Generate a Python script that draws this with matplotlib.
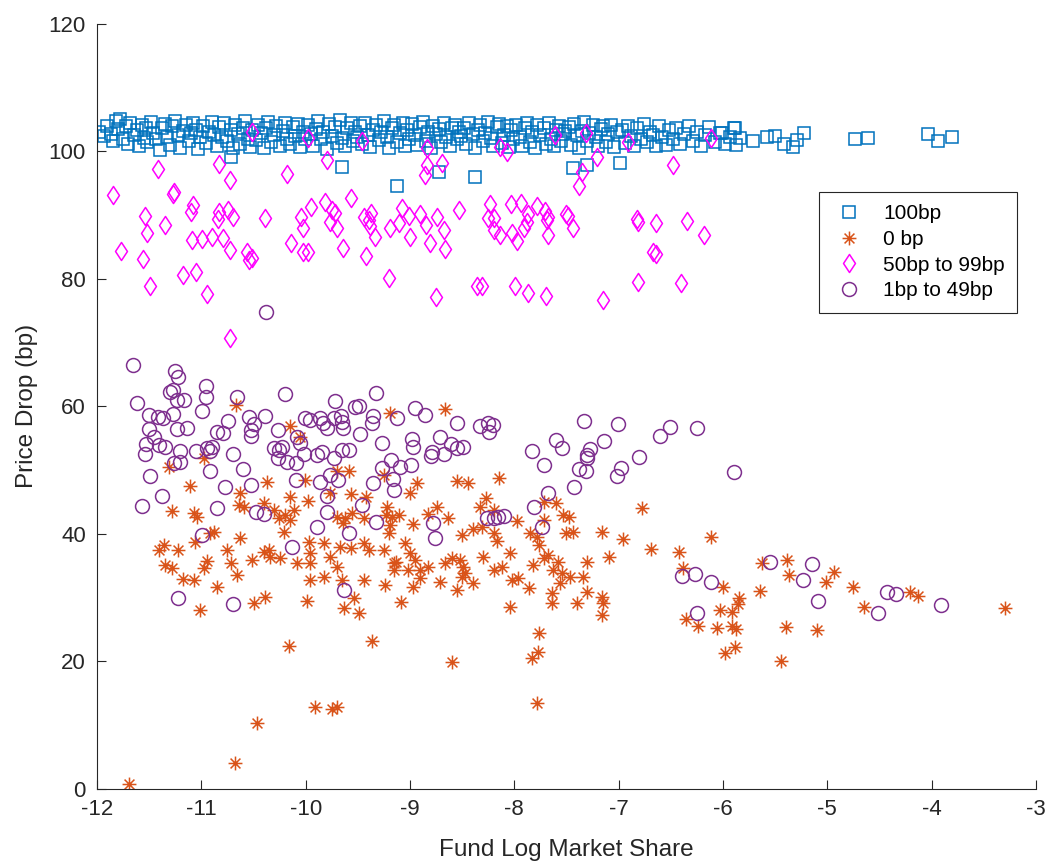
import numpy as np
import matplotlib
matplotlib.use("Agg")
import matplotlib.pyplot as plt
from matplotlib.path import Path

plt.rcParams['font.family'] = ['Liberation Sans', 'DejaVu Sans']

# ---- data: 100bp group (squares) ----
x_100 = [-11.98, -11.93, -11.90, -11.87, -11.85, -11.82, -11.80, -11.78, -11.75, -11.72, -11.70, -11.68, -11.65, -11.62, -11.60, -11.57, -11.55, -11.53, -11.52,
         -11.48, -11.46, -11.43, -11.40, -11.38, -11.35, -11.33, -11.30, -11.28, -11.25, -11.22, -11.20, -11.18, -11.15, -11.12, -11.10, -11.08, -11.05, -11.03, -11.01,
         -10.98, -10.96, -10.93, -10.90, -10.88, -10.85, -10.83, -10.80, -10.78, -10.75, -10.72, -10.70, -10.68, -10.65, -10.63, -10.60, -10.58, -10.55, -10.53, -10.51,
         -10.48, -10.46, -10.43, -10.40, -10.38, -10.36, -10.33, -10.30, -10.28, -10.25, -10.22, -10.20, -10.18, -10.15, -10.12, -10.10, -10.07, -10.05, -10.03, -10.01,
         -9.98, -9.95, -9.93, -9.90, -9.88, -9.85, -9.83, -9.80, -9.78, -9.75, -9.72, -9.70, -9.67, -9.65, -9.62, -9.60, -9.57, -9.55, -9.53, -9.51,
         -9.48, -9.46, -9.43, -9.40, -9.38, -9.35, -9.33, -9.30, -9.28, -9.25, -9.22, -9.20, -9.17, -9.15, -9.12, -9.10, -9.07, -9.05, -9.03, -9.01,
         -8.98, -8.95, -8.93, -8.90, -8.88, -8.85, -8.83, -8.80, -8.78, -8.75, -8.72, -8.70, -8.67, -8.65, -8.62, -8.60, -8.57, -8.55, -8.53, -8.51,
         -8.48, -8.46, -8.43, -8.40, -8.38, -8.35, -8.33, -8.30, -8.28, -8.25, -8.22, -8.20, -8.17, -8.15, -8.12, -8.10, -8.07, -8.05, -8.03, -8.01,
         -7.98, -7.95, -7.93, -7.90, -7.88, -7.85, -7.83, -7.80, -7.78, -7.75, -7.72, -7.70, -7.67, -7.65, -7.62, -7.60, -7.57, -7.55, -7.53, -7.51,
         -7.48, -7.46, -7.43, -7.40, -7.38, -7.35, -7.33, -7.30, -7.28, -7.25, -7.22, -7.20, -7.17, -7.15, -7.12, -7.10, -7.07, -7.04, -7.02,
         -6.97, -6.94, -6.91, -6.88, -6.85, -6.82, -6.79, -6.76, -6.73, -6.70, -6.67, -6.64, -6.61, -6.58, -6.55, -6.52,
         -6.48, -6.45, -6.41, -6.37, -6.33, -6.29, -6.25, -6.21, -6.17, -6.13, -6.08, -6.03, -5.98, -5.93, -5.89, -5.87, -5.84,
         -10.72, -9.65, -9.12, -8.72, -8.38, -7.44, -7.30, -6.99,
         -5.88, -6.01, -5.71, -5.58, -5.50, -5.41, -5.33, -5.29, -5.22, -4.73, -4.61, -4.03, -3.94, -3.80]
y_100 = [103.1, 102.4, 104.0, 102.8, 101.6, 104.8, 103.5, 105.0, 102.0, 103.9, 101.2, 104.4, 102.6, 103.3, 100.8, 104.2, 102.1, 103.7, 101.5,
         104.6, 102.9, 101.9, 100.2, 103.6, 104.3, 102.3, 101.0, 103.9, 104.7, 102.6, 100.6, 103.2, 104.1, 101.7, 102.9, 104.5, 103.4, 100.4, 102.2,
         104.0, 101.3, 103.0, 104.6, 102.5, 100.9, 103.8, 102.2, 104.4, 101.6, 103.4, 100.5, 104.1, 102.8, 101.2, 103.6, 104.8, 102.0, 100.7, 103.3,
         101.8, 104.2, 102.9, 100.6, 103.7, 104.6, 101.4, 102.6, 104.0, 100.9, 103.2, 104.5, 102.0, 101.1, 103.8, 102.4, 104.3, 100.7, 103.0, 101.9,
         104.1, 102.7, 100.8, 103.5, 104.7, 101.9, 103.1, 100.4, 104.3, 102.4, 103.8, 101.3, 104.9, 102.1, 100.9, 103.6, 104.4, 101.7, 103.0, 102.3,
         103.9, 101.2, 104.5, 102.6, 100.7, 103.4, 104.2, 101.8, 103.0, 104.8, 102.3, 100.5, 103.7, 104.1, 101.5, 102.9, 104.4, 100.9, 103.3, 102.0,
         104.3, 102.5, 101.0, 103.8, 104.6, 101.7, 103.1, 100.6, 104.0, 102.8, 103.5, 101.4, 104.5, 102.2, 100.8, 103.6, 104.2, 101.9, 103.0, 102.4,
         103.7, 101.1, 104.4, 102.7, 100.5, 103.3, 104.1, 101.6, 102.9, 104.6, 102.1, 100.9, 103.8, 104.3, 101.3, 102.6, 104.0, 100.7, 103.4, 101.9,
         104.2, 102.3, 100.8, 103.6, 104.5, 101.5, 103.0, 100.5, 104.1, 102.6, 103.7, 101.2, 104.4, 102.0, 100.9, 103.4, 104.0, 101.7, 102.8, 103.2,
         103.8, 101.0, 104.3, 102.5, 100.6, 103.2, 104.6, 101.7, 102.9, 104.1, 102.2, 100.8, 103.5, 103.9, 101.4, 102.7, 104.2, 100.7, 103.0,
         103.4, 101.3, 104.0, 102.4, 100.9, 103.7, 102.0, 104.3, 101.5, 103.1, 102.6, 100.8, 103.9, 102.2, 101.0, 103.3,
         102.0, 103.6, 101.2, 102.8, 104.0, 101.6, 103.1, 100.9, 102.5, 103.8, 101.4, 102.9, 101.1, 102.3, 103.7, 101.0, 102.1,
         99.1, 97.6, 94.6, 96.8, 96.0, 97.4, 97.9, 98.2,
         103.7, 102.9, 101.6, 102.3, 102.4, 101.2, 100.7, 101.8, 102.9, 102.0, 102.1, 102.7, 101.6, 102.3]

# ---- data: 0 bp group (asterisks) ----
x_0 = [-10.67, -9.19, -10.15, -10.05, -10.97, -11.31, -11.11, -10.37, -10.01, -9.70, -9.58, -9.25, -10.63, -10.15, -9.98, -9.77, -9.57, -9.42, -9.22,
       -11.28, -11.07, -11.04, -10.64, -10.59, -10.40, -10.30, -10.26, -10.20, -10.15, -10.21, -10.11, -9.70, -9.62, -9.56, -9.64, -9.44, -9.23, -9.19, -9.20,
       -10.88, -10.92, -11.06, -10.63, -11.36, -11.41, -11.22, -10.75, -10.95, -11.35, -11.28, -10.97, -10.72, -10.51, -10.40, -10.35, -10.34, -10.25, -10.08,
       -9.97, -9.96, -9.96, -9.82, -9.77, -9.70, -9.67, -9.57, -9.44, -9.39, -9.25, -9.15, -9.15, -11.18, -11.07, -10.66, -9.96, -9.82, -9.65, -9.44, -9.24,
       -10.85, -10.39, -10.50, -9.99, -9.63, -9.54, -9.49, -11.01,
       -8.66, -8.15, -8.55, -8.44, -8.93, -9.00, -8.27, -8.33, -8.19, -9.17, -9.11, -8.74, -8.83, -8.64, -8.97, -8.50, -8.40, -8.31, -8.19, -8.17,
       -7.97, -7.85, -7.78, -7.76, -7.72, -7.72, -7.60, -7.53, -7.48, -7.50, -7.44, -7.16, -6.96, -6.78, -6.69, -6.42, -7.09,
       -9.05, -9.00, -9.13, -8.95, -8.90, -9.02, -8.83, -8.66, -8.60, -8.52, -8.49, -8.47, -8.50, -8.71, -8.90, -8.97, -8.55, -8.40, -8.30, -8.19, -8.12, -8.04,
       -7.82, -7.72, -7.68, -7.58, -7.63, -7.54, -7.47, -7.56, -7.34, -7.30, -8.02, -7.96, -7.86, -7.64, -7.64, -7.40, -7.30, -7.16, -7.15, -7.16, -9.09, -8.04,
       -6.11, -6.38, -5.63, -5.39, -5.37, -4.94, -5.01, -4.75, -4.21, -4.13, -3.30, -6.00, -5.64, -5.85, -5.86, -6.03, -5.91, -4.65,
       -6.35, -6.24, -6.06, -5.91, -5.87, -5.40, -5.10,
       -10.16, -9.91, -9.75, -9.70, -10.47, -10.68, -11.69, -9.36, -8.60,
       -7.76, -7.77, -7.83, -7.78, -5.88, -5.98, -5.44]
y_0 = [60.2, 59.0, 56.9, 55.2, 51.9, 50.5, 47.5, 48.2, 48.5, 49.9, 49.9, 49.3, 46.4, 45.8, 45.2, 46.4, 46.3, 45.8, 44.2,
       43.6, 43.3, 42.7, 44.5, 44.2, 44.9, 43.8, 42.5, 43.0, 42.2, 40.3, 43.8, 42.7, 42.5, 43.3, 41.7, 42.5, 43.0, 41.4, 40.2,
       40.3, 40.2, 38.7, 39.4, 38.3, 37.5, 37.5, 37.5, 35.8, 35.1, 34.6, 34.6, 35.4, 35.9, 37.2, 37.5, 36.4, 36.2, 35.4,
       38.7, 37.0, 35.4, 38.6, 36.4, 34.8, 38.0, 37.8, 38.6, 37.5, 37.5, 35.4, 34.4, 32.9, 32.8, 33.6, 32.8, 33.3, 32.8, 32.8, 32.0,
       31.7, 30.1, 29.2, 29.5, 28.4, 30.0, 27.6, 28.1,
       59.6, 48.8, 48.3, 48.0, 48.0, 46.4, 45.6, 44.2, 43.8, 42.7, 43.0, 44.2, 43.1, 42.5, 41.6, 39.8, 40.8, 41.1, 40.2, 38.9,
       42.0, 40.2, 39.5, 38.3, 42.2, 45.0, 44.9, 43.0, 42.7, 40.2, 40.3, 40.3, 39.2, 44.1, 37.6, 37.2, 36.4,
       38.6, 37.0, 35.6, 35.9, 34.4, 34.4, 34.8, 35.4, 36.2, 35.9, 34.8, 33.9, 33.3, 32.5, 33.1, 31.7, 31.2, 32.3, 36.4, 34.4, 34.8, 37.0,
       35.1, 36.2, 36.7, 35.6, 34.4, 33.9, 33.3, 32.3, 33.3, 35.6, 32.8, 33.1, 31.5, 30.7, 29.2, 29.2, 30.9, 30.1, 29.2, 27.3, 29.3, 28.5,
       39.5, 34.7, 35.5, 35.9, 33.6, 34.0, 32.5, 31.7, 30.9, 30.3, 28.4, 31.7, 31.1, 30.0, 29.0, 28.1, 27.8, 28.6,
       26.7, 25.6, 25.3, 25.6, 25.1, 25.4, 24.9,
       22.4, 12.9, 12.5, 12.9, 10.4, 4.1, 0.8, 23.2, 19.9,
       24.5, 21.5, 20.5, 13.5, 22.3, 21.3, 20.1]

# ---- data: 50bp to 99bp group (diamonds) ----
x_50 = [-11.42, -11.85, -10.83, -10.73, -11.26, -11.27, -11.54, -11.52, -11.35, -11.77, -11.56, -11.49, -11.18, -11.05, -10.95, -11.08, -11.10, -11.09,
        -10.99, -10.90, -10.79, -10.73, -10.83, -10.84, -10.74, -10.70, -10.56, -10.54, -10.51, -10.39, -10.18, -10.14, -10.04, -10.03, -10.03, -9.98,
        -9.95, -9.80, -9.81, -9.75, -9.72, -9.77, -9.70, -9.64, -9.57, -9.44, -9.39, -9.37, -9.38, -9.34, -9.42, -9.20, -9.19, -9.11, -9.08, -9.01,
        -9.00, -8.90, -8.85, -8.81, -8.74, -8.67, -8.66, -8.53, -8.36, -8.75, -10.73, -8.86, -8.84, -8.69, -8.84,
        -7.21, -7.35, -7.38, -6.48, -8.23, -8.25, -8.19, -8.19, -8.14, -8.03, -7.94, -7.87, -7.88, -7.91, -8.02, -7.97, -7.78, -7.71, -7.68,
        -7.69, -7.68, -7.50, -7.49, -7.44, -6.82, -6.81, -6.64, -6.34, -6.18, -6.67, -6.64, -8.31, -7.99, -7.87, -7.70, -7.15, -6.81, -6.40,
        -7.61, -7.31, -6.91, -6.11, -10.51, -9.98, -9.46, -8.14, -8.07]
y_50 = [97.3, 93.2, 98.0, 95.5, 93.6, 93.3, 89.9, 87.2, 88.5, 84.4, 83.1, 78.9, 80.6, 81.1, 77.6, 91.6, 90.5, 86.1,
        86.3, 86.6, 86.4, 84.5, 90.5, 89.4, 90.8, 89.7, 84.2, 83.0, 83.3, 89.6, 96.5, 85.6, 89.7, 88.0, 84.2, 84.2,
        91.3, 98.7, 92.1, 90.8, 90.3, 89.0, 88.0, 84.9, 92.7, 89.7, 89.2, 90.3, 88.3, 86.6, 83.6, 80.2, 88.0, 88.8, 91.1, 89.9,
        86.6, 90.2, 88.5, 85.6, 89.7, 87.7, 84.7, 90.8, 78.9, 77.2, 70.7, 96.3, 97.9, 98.2, 100.5,
        99.1, 96.8, 94.6, 97.9, 91.8, 89.6, 89.6, 87.7, 86.9, 91.8, 91.9, 90.2, 88.9, 88.0, 87.2, 86.0, 91.5, 90.7, 89.7,
        89.3, 86.9, 90.2, 89.9, 88.0, 89.4, 88.9, 88.8, 89.1, 86.9, 84.2, 83.9, 78.9, 78.9, 77.8, 77.3, 76.7, 79.5, 79.4,
        102.6, 102.9, 101.5, 102.1, 103.0, 102.1, 101.6, 100.7, 99.9]

# ---- data: 1bp to 49bp group (circles) ----
x_1 = [-11.66, -11.25, -11.22, -11.62, -11.30, -11.27, -11.23, -11.17, -10.96, -10.96, -10.99, -10.66, -10.20, -9.72, -9.53, -9.49, -9.33,
       -11.50, -11.42, -11.37, -11.27, -11.50, -11.45, -11.53, -11.54, -11.41, -11.35, -11.23, -11.14, -11.20, -11.20, -11.26, -11.49, -11.38, -11.57,
       -10.74, -10.85, -10.79, -11.05, -10.95, -10.90, -10.92, -10.70, -10.92, -10.60, -10.77, -10.52, -10.85,
       -10.54, -10.50, -10.52, -10.52, -10.39, -10.27, -10.30, -10.26, -10.23, -10.27, -10.18, -10.09, -10.02, -10.05, -10.08,
       -10.01, -9.96, -9.86, -9.83, -9.80, -9.73, -9.65, -9.64, -9.66, -9.89, -9.84, -9.73, -9.65, -9.58, -9.48, -9.35, -9.36, -9.27, -9.27,
       -9.18, -9.16, -9.35, -9.77, -9.69, -9.86, -10.09, -9.80, -10.48, -10.40, -9.80, -9.46, -9.33, -9.89, -9.58, -10.99, -10.13, -9.63, -11.22, -10.70,
       -8.95, -8.86, -9.12, -8.55, -8.33, -8.25, -8.20, -8.24, -8.98, -8.97, -8.71, -8.61, -8.55, -8.49, -8.79, -8.80, -8.67, -9.10, -8.99, -9.15,
       -7.83, -7.72, -7.60, -7.54, -7.33, -7.14, -7.01, -7.27, -7.30, -7.30, -7.38, -7.31, -7.43, -7.68, -7.81, -7.73, -7.02, -6.98, -6.80, -6.60,
       -6.51, -6.25, -8.78, -8.76, -8.26, -8.19, -8.16, -8.10, -6.39, -6.27, -6.25,
       -5.89, -5.55, -5.15, -5.23, -5.09, -4.43, -4.34, -4.51, -3.91, -6.11, -10.38]
y_1 = [66.5, 65.6, 64.6, 60.5, 62.3, 62.6, 61.0, 61.0, 63.2, 61.5, 59.3, 61.5, 62.0, 60.9, 59.9, 60.1, 62.1,
       58.7, 58.3, 58.2, 58.8, 56.5, 55.2, 54.1, 52.5, 54.0, 53.6, 56.5, 56.6, 53.0, 51.3, 51.1, 49.1, 46.0, 44.4,
       57.7, 56.0, 55.8, 53.0, 53.5, 53.6, 53.0, 52.5, 49.9, 50.2, 47.4, 47.7, 44.1,
       58.3, 57.3, 56.3, 55.4, 58.5, 56.3, 53.5, 53.2, 53.7, 51.9, 51.3, 51.1, 52.5, 54.3, 55.2,
       58.2, 57.9, 58.2, 57.4, 56.6, 58.2, 57.6, 56.6, 58.5, 52.4, 52.9, 51.9, 53.2, 53.2, 55.7, 58.5, 57.4, 54.3, 50.4,
       51.6, 48.6, 48.0, 49.3, 48.5, 48.2, 48.5, 46.0, 43.5, 43.1, 43.5, 44.5, 41.9, 41.1, 40.2, 39.8, 38.0, 31.2, 30.0, 29.0,
       59.8, 58.7, 58.2, 57.4, 56.9, 57.4, 57.1, 56.0, 54.9, 53.6, 55.2, 54.1, 53.5, 53.6, 52.9, 52.2, 52.5, 50.5, 50.8, 46.9,
       53.0, 50.8, 54.7, 53.5, 57.7, 54.6, 57.3, 53.3, 52.4, 51.9, 50.2, 49.9, 47.4, 46.4, 44.2, 41.1, 49.1, 50.4, 52.1, 55.4,
       56.8, 56.6, 41.7, 39.4, 42.5, 42.5, 42.7, 42.8, 33.4, 33.7, 27.6,
       49.7, 35.6, 35.3, 32.8, 29.5, 30.9, 30.6, 27.6, 28.9, 32.5, 74.8]

labels = ['100bp', '0 bp', '50bp to 99bp', '1bp to 49bp']
x_ticks = [-12, -11, -10, -9, -8, -7, -6, -5, -4, -3]
y_ticks = [0, 20, 40, 60, 80, 100, 120]

# MATLAB style markers
star = Path([(0, -1), (0, 1), (-1, 0), (1, 0), (-0.71, -0.71), (0.71, 0.71), (-0.71, 0.71), (0.71, -0.71)],
            [Path.MOVETO, Path.LINETO] * 4)
diamond = Path([(0, 1), (0.66, 0), (0, -1), (-0.66, 0), (0, 1)],
               [Path.MOVETO, Path.LINETO, Path.LINETO, Path.LINETO, Path.CLOSEPOLY])

fig = plt.figure(figsize=(10.49, 8.67), dpi=100)
ax = fig.add_axes([0.0925, 0.09, 0.895, 0.8825])

ax.plot(x_100, y_100, ls='none', marker='s', ms=8, mfc='none', mec='#0072BD', mew=1.1, label=labels[0])
ax.plot(x_0, y_0, ls='none', marker=star, ms=10, mfc='none', mec='#D95319', mew=1.1, label=labels[1])
ax.plot(x_50, y_50, ls='none', marker=diamond, ms=13, mfc='none', mec='#FF00FF', mew=1.1, label=labels[2])
ax.plot(x_1, y_1, ls='none', marker='o', ms=10, mfc='none', mec='#7E2F8E', mew=1.1, label=labels[3])

ax.set_xlim(-12, -3)
ax.set_ylim(0, 120)
ax.set_xticks(x_ticks)
ax.set_yticks(y_ticks)
ax.set_xticklabels([str(t) for t in x_ticks])
ax.spines['top'].set_visible(False)
ax.spines['right'].set_visible(False)
for s in ['left', 'bottom']:
    ax.spines[s].set_color('#262626')
    ax.spines[s].set_linewidth(0.8)
ax.tick_params(direction='in', length=6.5, width=0.8, color='#262626', labelcolor='#262626', labelsize=16)
ax.tick_params(axis='x', pad=7)
ax.tick_params(axis='y', pad=8)

ax.set_xlabel('Fund Log Market Share', fontsize=17.5, color='#262626', labelpad=14)
ax.set_ylabel('Price Drop (bp)', fontsize=17.5, color='#262626', labelpad=8)

leg = ax.legend(loc='upper right', bbox_to_anchor=(0.98, 0.7804), fontsize=15, frameon=True, fancybox=False,
                edgecolor='#262626', framealpha=1, borderaxespad=0, handlelength=1.6, handletextpad=0.85,
                labelspacing=0.32, borderpad=0.6, numpoints=1)
leg.get_frame().set_linewidth(0.8)

fig.savefig('out.png', dpi=100)
